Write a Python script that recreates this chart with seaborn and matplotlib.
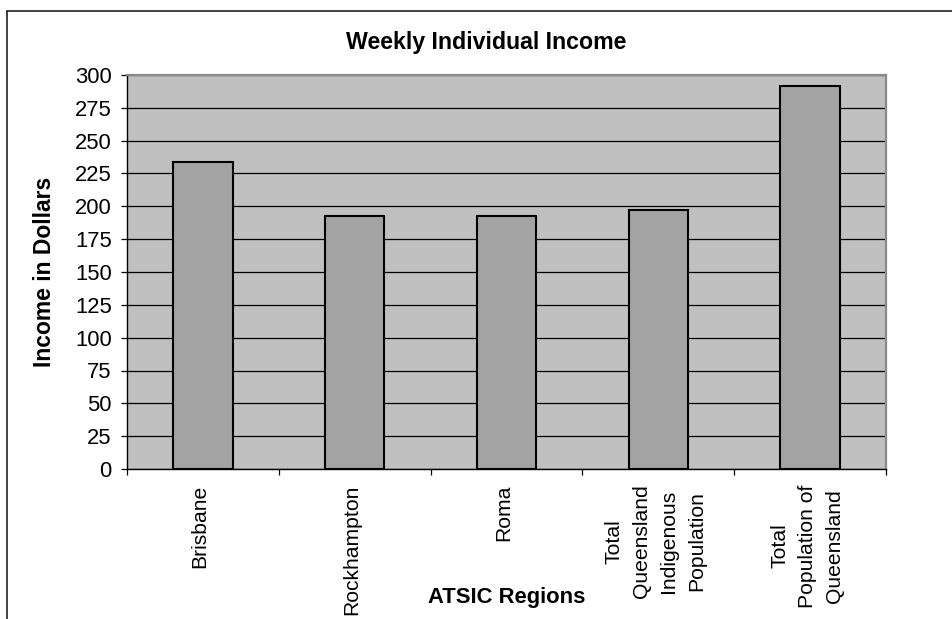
import matplotlib
matplotlib.use("Agg")
import matplotlib.pyplot as plt
from matplotlib.lines import Line2D
from matplotlib.transforms import ScaledTranslation
import seaborn as sns
import pandas as pd
import numpy as np

# Weekly individual income by ATSIC region (dollars)
regions = [
    "Brisbane",
    "Rockhampton",
    "Roma",
    "Total\nQueensland\nIndigenous\nPopulation",
    "Total\nPopulation of\nQueensland",
]
income = [234, 193, 193, 197, 292]
y_ticks = list(range(0, 301, 25))

df = pd.DataFrame({"region": regions, "income": income})

sns.set_style("ticks")
plt.rcParams["font.family"] = ["Liberation Sans", "DejaVu Sans"]
plt.rcParams["text.color"] = "black"
plt.rcParams["axes.labelcolor"] = "black"
plt.rcParams["xtick.color"] = "black"
plt.rcParams["ytick.color"] = "black"

W, H = 953, 619
fig = plt.figure(figsize=(W / 100, H / 100), dpi=100)
ax = fig.add_axes([127 / W, 1 - 469 / H, 759 / W, 394 / H])

sns.barplot(data=df, x="region", y="income", color="#A3A3A3",
            edgecolor="black", linewidth=1.5, width=0.39, saturation=1,
            ax=ax, zorder=3)
for p in ax.patches:
    p.set_facecolor("#A3A3A3")

ax.set_facecolor("#C0C0C0")
ax.set_xlim(-0.5, len(regions) - 0.5)
ax.set_ylim(0, 300)
ax.set_yticks(y_ticks)
ax.set_axisbelow(True)
ax.yaxis.grid(True, color="black", linewidth=0.9)
ax.xaxis.grid(False)

# frame: dark axes on the left/bottom, grey edges top/right
for side in ("left", "bottom"):
    ax.spines[side].set_color("black")
    ax.spines[side].set_linewidth(1.0)
for side in ("top", "right"):
    ax.spines[side].set_visible(True)
    ax.spines[side].set_color("#8A8A8A")
    ax.spines[side].set_linewidth(1.6)

ax.tick_params(axis="y", direction="out", length=4.5, width=0.9,
               color="black", pad=6.5, labelsize=15.8, labelcolor="black")
# category separators as minor ticks, labels centred under bars
ax.set_xticks(np.arange(-0.5, len(regions), 1.0), minor=True)
ax.tick_params(axis="x", which="minor", direction="out", length=4.5,
               width=0.9, color="black")
ax.tick_params(axis="x", which="major", length=0, pad=11, labelsize=15.2,
               labelcolor="black")
shift = ScaledTranslation(-3 / 100, 0, fig.dpi_scale_trans)
for lbl in ax.get_xticklabels():
    lbl.set_rotation(90)
    lbl.set_verticalalignment("top")
    lbl.set_horizontalalignment("center")
    lbl.set_multialignment("center")
    lbl.set_linespacing(1.56)
    lbl.set_transform(lbl.get_transform() + shift)

ax.set_xlabel("ATSIC Regions", fontsize=15.8, fontweight="bold",
              color="black")
ax.xaxis.set_label_coords(0.5, -0.2995)
ax.set_ylabel("Income in Dollars", fontsize=16.5, fontweight="bold",
              color="black")
ax.yaxis.set_label_coords(-0.094, 0.5)

ax.set_title("Weekly Individual Income", fontsize=16.7, fontweight="bold",
             color="black", x=(486 - 127) / 759, y=(469 - 49) / 394, pad=0,
             va="baseline")

# chart area border (top and left edges)
fig.add_artist(Line2D([7 / W, 1.0], [1 - 10.5 / H, 1 - 10.5 / H],
                      color="#202020", linewidth=1.2,
                      transform=fig.transFigure))
fig.add_artist(Line2D([7 / W, 7 / W], [0.0, 1 - 10.5 / H],
                      color="#202020", linewidth=1.2,
                      transform=fig.transFigure))

fig.savefig("out.png", dpi=100, facecolor="white")
